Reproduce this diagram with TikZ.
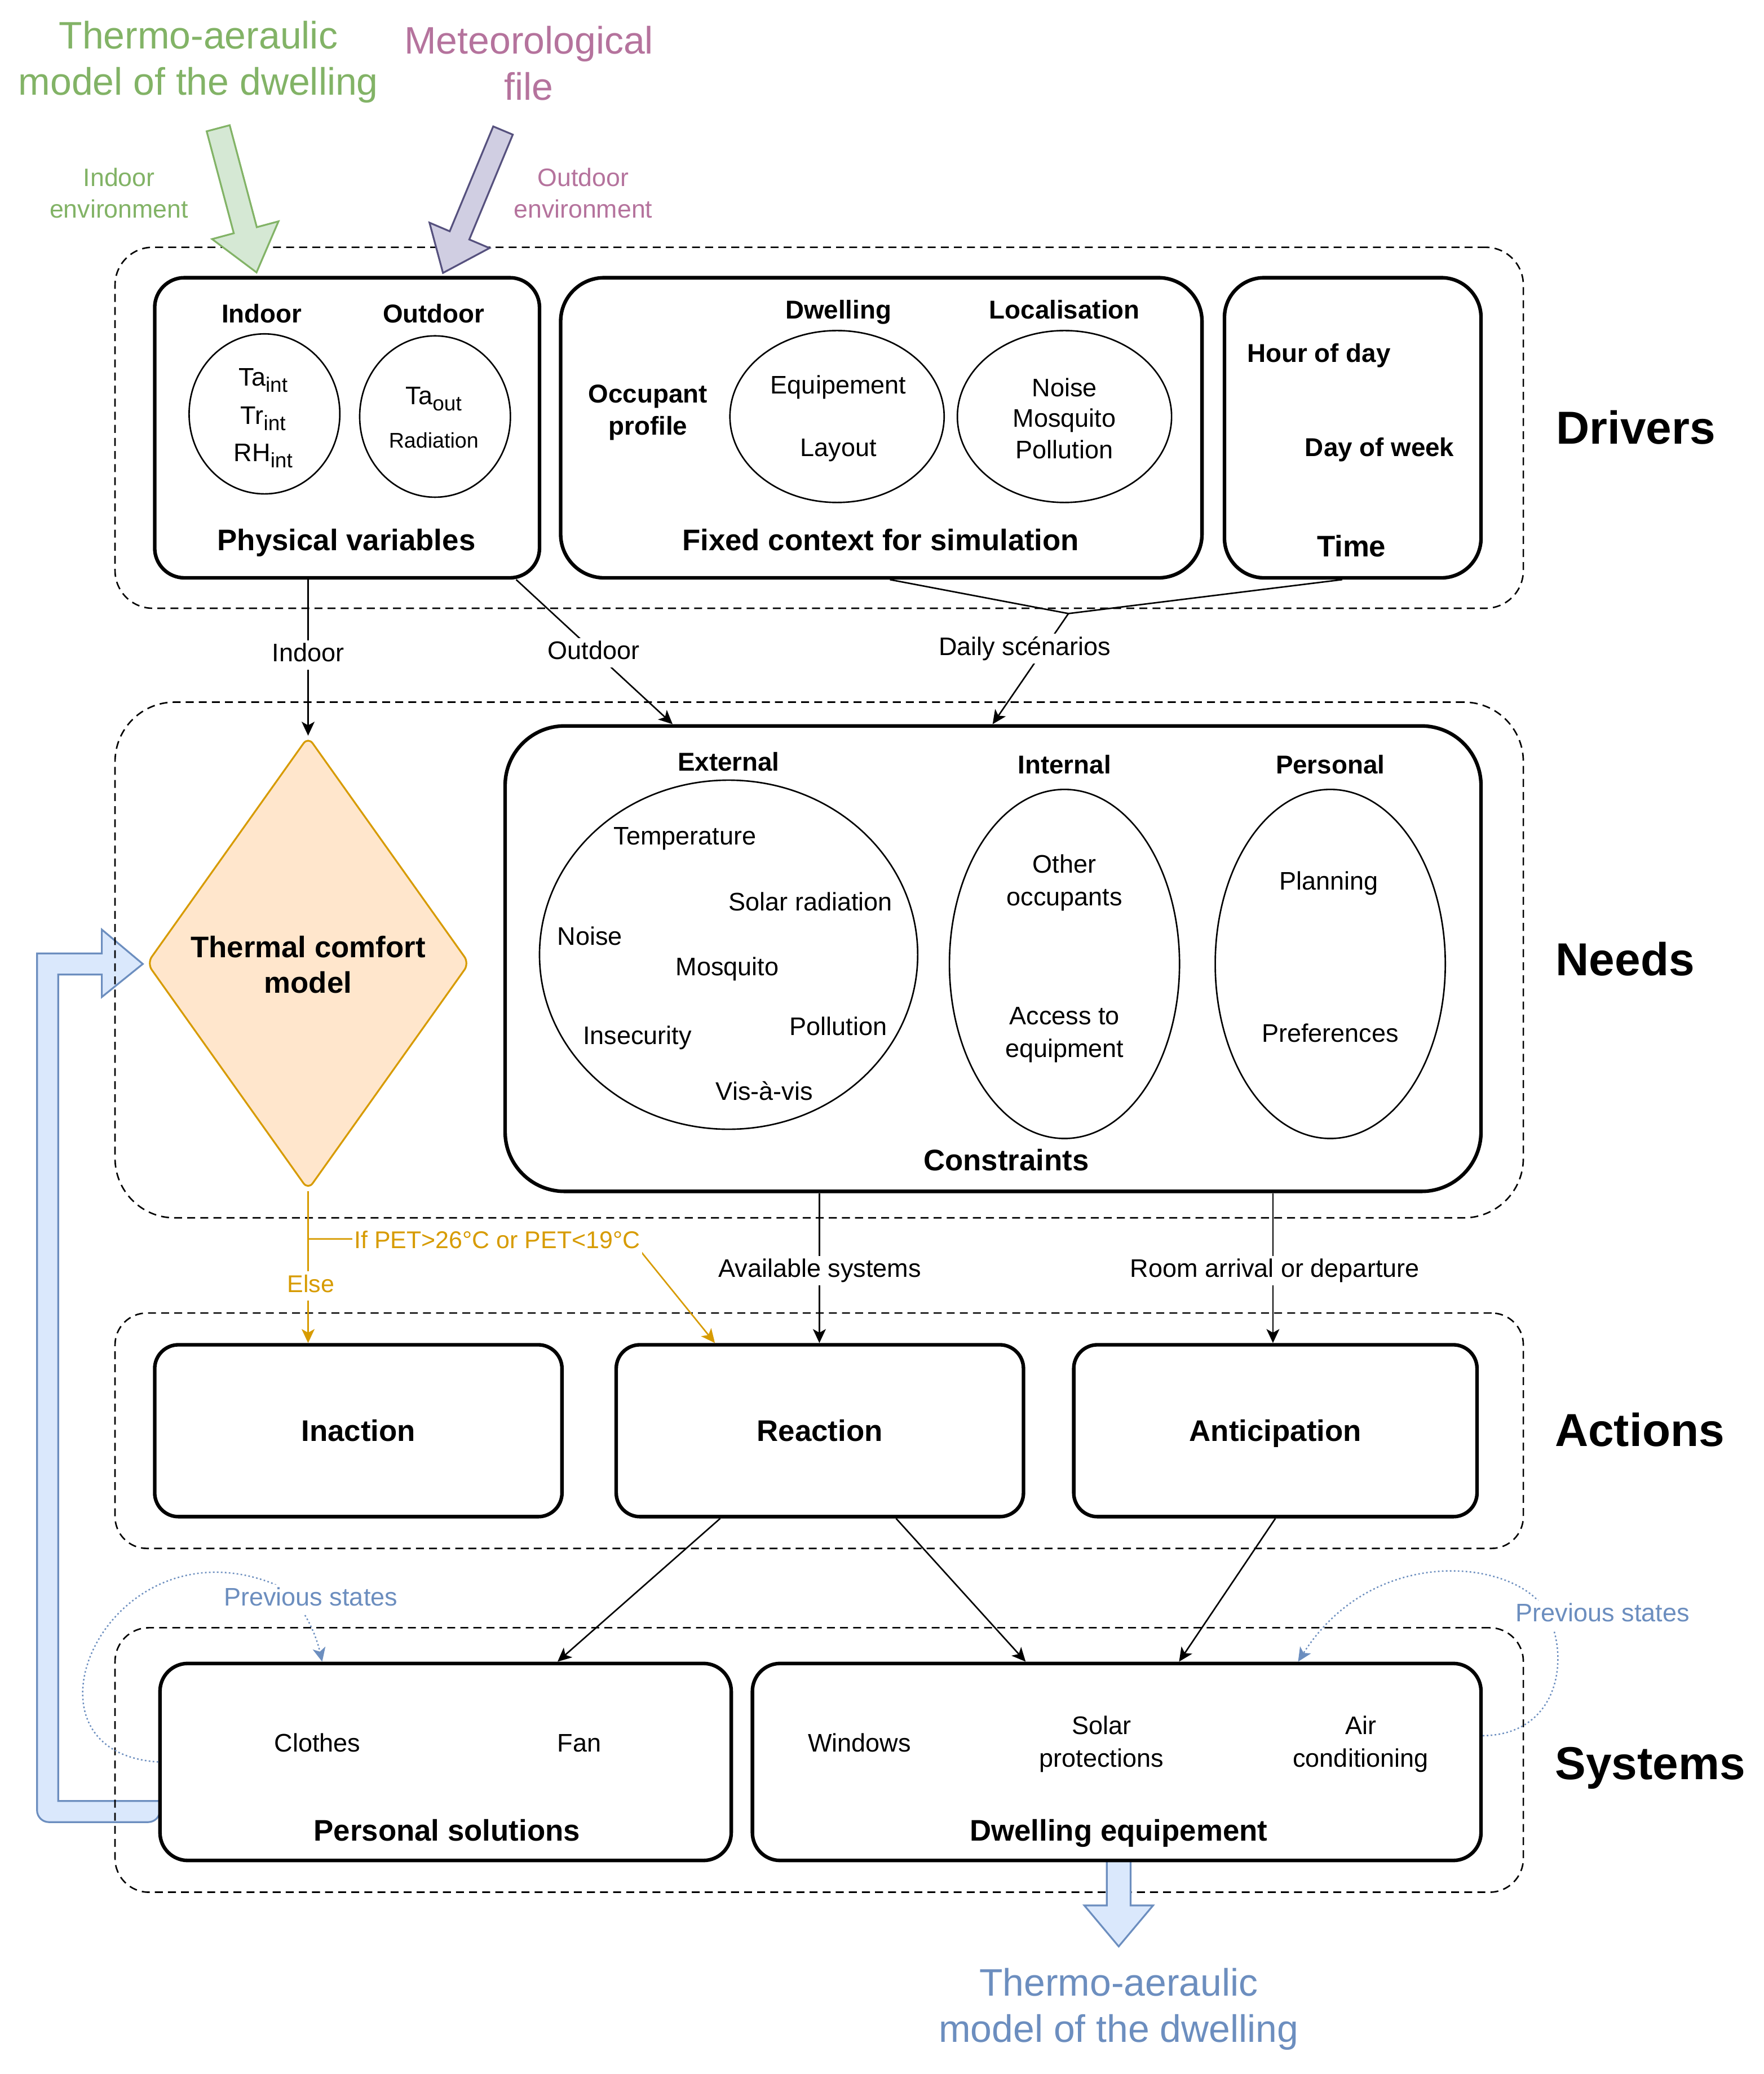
\documentclass[tikz,border=0pt]{standalone}
\usepackage{fontspec}
\setmainfont{Liberation Sans}
\usetikzlibrary{arrows.meta,shapes.geometric,fit,calc}
\definecolor{gfill}{HTML}{D5E8D4}
\definecolor{gline}{HTML}{82B366}
\definecolor{pfill}{HTML}{D0CEE2}
\definecolor{pline}{HTML}{56517E}
\definecolor{ptext}{HTML}{B5739D}
\definecolor{bfill}{HTML}{DAE8FC}
\definecolor{bline}{HTML}{6C8EBF}
\definecolor{ofill}{HTML}{FFE6CC}
\definecolor{oline}{HTML}{D79B00}
\newcommand\lowtxt[1]{\raisebox{-0.45ex}{\fontsize{10.5}{10}\selectfont #1}}
\newcommand\ux{*0.6665pt}
\begin{document}
\begin{tikzpicture}[x=0.6665pt, y=-0.6665pt,
  container/.style={draw, line width=0.75pt, dash pattern=on 4pt off 2.6pt, inner sep=0pt},
  box/.style={draw, line width=1.8pt, fill=white, inner sep=0pt},
  oval/.style={draw, ellipse, line width=0.75pt, inner sep=0pt},
  capfix/.style={text height=#1, text depth=0pt},
  txtm/.style={font=\fontsize{12.8}{16.5}\selectfont, align=center, inner sep=0pt},
  txt/.style={txtm, capfix=9.2pt},
  small/.style={font=\fontsize{10.7}{13}\selectfont, align=center, inner sep=0pt, capfix=7.7pt},
  hdrm/.style={font=\fontsize{13}{16}\selectfont\bfseries, align=center, inner sep=0pt},
  hdr/.style={hdrm, capfix=9.4pt},
  ttlm/.style={font=\fontsize{15}{18}\selectfont\bfseries, align=center, inner sep=0pt},
  ttl/.style={ttlm, capfix=10.8pt},
  sect/.style={font=\fontsize{23.3}{28}\selectfont\bfseries, inner sep=0pt, capfix=16.8pt},
  bigc/.style={font=\fontsize{19.3}{23.3}\selectfont, align=center, inner sep=0pt},
  smallc/.style={font=\fontsize{12.7}{16}\selectfont, align=center, inner sep=0pt},
  lbl/.style={font=\fontsize{12.8}{16.5}\selectfont, fill=white, inner sep=1.5pt, align=center, text height=9.2pt, text depth=2.6pt},
  tipc/.style={-{Stealth[length=7pt,width=6.5pt,inset=1.8pt]}},
  arr/.style={line width=0.75pt, tipc},
  oarr/.style={draw=oline, line width=0.75pt, tipc},
  darr/.style={draw=bline, line width=0.7pt, dash pattern=on 0.8pt off 1.2pt, tipc},
  fat/.style={line width=0.9pt, line join=miter},
]
\fill[white] (0,0) rectangle (1334,1568.5);
\useasboundingbox (0,0) rectangle (1334,1568.5);

% feedback block arrow (systems -> thermal comfort)
\draw[fat, draw=bline, fill=bfill] (121,1362) -- (44,1362) -- (44,737) -- (77,737) -- (77,754) -- (108,729) -- (77,703) -- (77,721) -- (28,721) [rounded corners=6pt] -- (28,1378) -- (121,1378) [sharp corners] -- cycle;

% containers
\node[container, rounded corners=19pt, fit={(87,187)(1152,460)}] (drv) {};
\node[container, rounded corners=30pt, fit={(87,531)(1152,921)}] (nds) {};
\node[container, rounded corners=16pt, fit={(87,993)(1152,1171)}] (act) {};
\node[container, rounded corners=17pt, fit={(87,1231)(1152,1431)}] (sys) {};

% input block arrows
\draw[fat, draw=gline, fill=gfill] (173.7,94.7) -- (194.2,171.8) -- (210.6,167.4) -- (194,206) -- (160.4,180.8) -- (176.8,176.4) -- (156.3,99.3) -- cycle;
\draw[fat, draw=pline, fill=pfill] (387.8,101.8) -- (354.9,181.1) -- (370.2,187.6) -- (335,206.4) -- (324.8,168.4) -- (340.1,174.9) -- (373,95.6) -- cycle;
\draw[fat, draw=bline, fill=bfill] (837,1400) -- (837,1441) -- (820,1441) -- (846,1472) -- (872,1441) -- (855,1441) -- (855,1400) -- cycle;

% titles
\node[bigc, text=gline] (tTherm) at (150,47) {Thermo-aeraulic\\model of the dwelling};
\node[bigc, text=ptext] (tMeteo) at (400,48) {Meteorological\\file};
\node[smallc, text=gline] (tInEnv) at (90,146) {Indoor\\environment};
\node[smallc, text=ptext] (tOutEnv) at (441,146) {Outdoor\\environment};
\node[bigc, text=bline] (tThermB) at (846,1519.5) {Thermo-aeraulic\\model of the dwelling};

% Drivers
\node[box, rounded corners=15pt, fit={(117,210)(408,437)}] (phys) {};
\node[box, rounded corners=22pt, fit={(424,210)(909,437)}] (fixed) {};
\node[box, rounded corners=20pt, fit={(926,210)(1120,437)}] (time) {};
\node[oval, minimum width=114\ux, minimum height=121\ux] (eIn) at (200,313) {};
\node[oval, minimum width=114\ux, minimum height=122\ux] (eOut) at (329,315) {};
\node[oval, minimum width=162\ux, minimum height=130\ux] (eDw) at (633,315) {};
\node[oval, minimum width=162\ux, minimum height=130\ux] (eLoc) at (805,315) {};
\node[hdr] (hIn) at (198,237) {Indoor};
\node[hdr] (hOut) at (328,237) {Outdoor};
\node[txt] (vTa) at (199,285) {Ta\lowtxt{int}};
\node[txt] (vTr) at (199,314) {Tr\lowtxt{int}};
\node[txt] (vRH) at (199,342) {RH\lowtxt{int}};
\node[txt] (vTo) at (328,299) {Ta\lowtxt{out}};
\node[small] (vRad) at (328,333) {Radiation};
\node[ttl] (tPhys) at (262,408) {Physical variables};
\node[hdr] (hDw) at (634,234) {Dwelling};
\node[hdr] (hLoc) at (805,234) {Localisation};
\node[hdrm] (hOcc) at (490,312) {Occupant\\profile};
\node[txt] (vEq) at (634,291) {Equipement};
\node[txt] (vLay) at (634,338) {Layout};
\node[txt] (vNo) at (805,293) {Noise};
\node[txt] (vMo) at (805,316) {Mosquito};
\node[txt] (vPo) at (805,340) {Pollution};
\node[ttl] (tFix) at (666,408) {Fixed context for simulation};
\node[hdr, anchor=west] (hHour) at (943,267) {Hour of day};
\node[hdr, anchor=east] (hDay) at (1100,338) {Day of week};
\node[ttl] (tTime) at (1022,413) {Time};
\node[sect] (sDrv) at (1237,323) {Drivers};

% Needs
\node[diamond, draw=oline, fill=ofill, line width=0.9pt, rounded corners=4pt, minimum width=244\ux, minimum height=343\ux, inner sep=0pt] (tcm) at (233,728.5) {};
\node[ttlm] (tTcm) at (233,729.5) {Thermal comfort\\model};
\node[box, rounded corners=30pt, fit={(382,549)(1120,901)}] (cons) {};
\node[oval, minimum width=286\ux, minimum height=264\ux] (eExt) at (551,722) {};
\node[oval, minimum width=174\ux, minimum height=264\ux] (eInt) at (805,729) {};
\node[oval, minimum width=174\ux, minimum height=264\ux] (ePer) at (1006,729) {};
\node[hdr] (hExt) at (551,576) {External};
\node[hdr] (hInt) at (805,578) {Internal};
\node[hdr] (hPer) at (1006,578) {Personal};
\node[txt] (cTemp) at (518,632) {Temperature};
\node[txt] (cSol) at (613,682) {Solar radiation};
\node[txt] (cNoi) at (446,708) {Noise};
\node[txt] (cMos) at (550,731) {Mosquito};
\node[txt] (cIns) at (482,783) {Insecurity};
\node[txt] (cPol) at (634,776) {Pollution};
\node[txt] (cVis) at (578,825) {Vis-à-vis};
\node[txtm] (cOth) at (805,667.5) {Other\\occupants};
\node[txtm] (cAcc) at (805,782.5) {Access to\\equipment};
\node[txt] (cPla) at (1005,666) {Planning};
\node[txt] (cPre) at (1006,781) {Preferences};
\node[ttl] (tCons) at (761,877) {Constraints};
\node[sect] (sNds) at (1229,725) {Needs};

% Actions
\node[box, rounded corners=12pt, fit={(117,1017)(425,1147)}] (inact) {};
\node[box, rounded corners=12pt, fit={(466,1017)(774,1147)}] (react) {};
\node[box, rounded corners=12pt, fit={(812,1017)(1117,1147)}] (antic) {};
\node[ttl] (tInact) at (inact.center) {Inaction};
\node[ttl] (tReact) at (react.center) {Reaction};
\node[ttl] (tAntic) at (antic.center) {Anticipation};
\node[sect] (sAct) at (1240,1081) {Actions};

% Systems
\node[box, rounded corners=14pt, fit={(121,1258)(553,1407)}] (psol) {};
\node[box, rounded corners=14pt, fit={(569,1258)(1120,1407)}] (dequ) {};
\node[txt] (sClo) at (240,1318) {Clothes};
\node[txt] (sFan) at (438,1318) {Fan};
\node[ttl] (tPsol) at (338,1384) {Personal solutions};
\node[txt] (sWin) at (650,1318) {Windows};
\node[txtm] (sSol) at (833,1319) {Solar\\protections};
\node[txtm] (sAir) at (1029,1319) {Air\\conditioning};
\node[ttl] (tDequ) at (846,1384) {Dwelling equipement};
\node[sect] (sSys) at (1248,1333) {Systems};

% connectors drivers -> needs
\draw[arr] (tcm.north |- phys.south) -- (tcm.north);
\node[lbl] (lbIn) at (233,495.5) {Indoor};
\draw[arr] ($(phys.south east)+(-19,0)$) -- ($(cons.north west)+(128,0)$);
\node[lbl] (lbOut) at (449,493.5) {Outdoor};
\coordinate (J) at (808,464);
\draw[line width=0.75pt] ($(fixed.south)+(6.5,0)$) -- (J) -- ($(time.south)+(-8,0)$);
\draw[arr] (J) -- ($(cons.north west)+(370,0)$);
\node[lbl] (lbDaily) at (775,490.5) {Daily scénarios};

% needs -> actions
\draw[oarr] (tcm.south) -- (tcm.south |- inact.north);
\coordinate (B1) at (233,937);
\coordinate (B2) at (477,937);
\draw[oarr] (B1) -- (B2) -- ($(react.north west)+(76,0)$);
\node[lbl, text=oline, font=\fontsize{12.2}{15}\selectfont] (lbElse) at (235,972.5) {Else};
\node[lbl, text=oline, font=\fontsize{12.2}{15}\selectfont, inner sep=1pt] (lbPET) at (376,939) {If PET>26°C or PET<19°C};
\draw[arr] ($(cons.south west)+(239,0)$) -- ($(react.north west)+(155,0)$);
\node[lbl] (lbAvail) at (620,961) {Available systems};
\draw[arr] ($(cons.south west)+(582,0)$) -- ($(antic.north west)+(152,0)$);
\node[lbl] (lbRoom) at (964,961) {Room arrival or departure};

% actions -> systems
\draw[arr] ($(react.south west)+(80,0)$) -- ($(psol.north west)+(302,0)$);
\draw[arr] ($(react.south west)+(213,0)$) -- ($(dequ.north west)+(208,0)$);
\draw[arr] (antic.south) -- ($(dequ.north west)+(324,0)$);

% previous states loops
\draw[darr] (psol.west) .. controls (4,1325) and (80,1150) .. (205,1197) .. controls (225,1205) and (238,1232) .. ($(psol.north west)+(124,0)$);
\node[lbl, text=bline] (psL) at (235,1209.5) {Previous states};
\draw[darr] ($(dequ.north east)+(0,56)$) .. controls (1178,1312) and (1188,1255) .. (1170,1220) .. controls (1150,1180) and (1040,1165) .. ($(dequ.north west)+(414,0)$);
\node[lbl, text=bline] (psR) at (1212,1221.5) {Previous states};
\end{tikzpicture}
\end{document}
